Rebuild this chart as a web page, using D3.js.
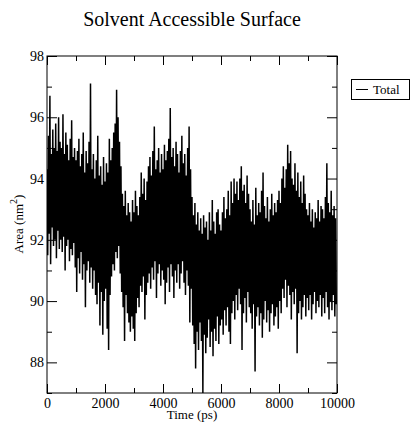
<!DOCTYPE html>
<html><head><meta charset="utf-8">
<script src="https://cdn.jsdelivr.net/npm/d3@7"></script>
<style>
body{margin:0;background:#fff;}
svg text{font-family:"Liberation Serif",serif !important;fill:#000;}
</style></head>
<body>
<svg id="chart" width="411" height="425"></svg>
<script>
// Sampling interval (ps) of the envelope readings
const stepPs = 50;
// Upper extremes of the trace, read every 50 ps (nm^2)
const highs = [
94.3,95.4,96.7,94.8,95.6,95.0,95.8,94.9,96.0,95.2,
95.0,96.1,94.8,95.5,95.1,94.6,95.3,95.9,94.7,95.0,
94.6,94.9,95.3,94.4,94.8,95.5,94.2,94.9,94.5,95.2,
97.1,94.3,94.8,94.0,94.6,95.4,94.1,94.4,93.8,94.7,
93.9,94.5,94.2,95.3,94.6,95.0,95.5,95.8,96.9,96.0,
95.2,94.4,93.5,93.1,93.6,92.8,93.2,92.9,92.6,93.3,
92.9,93.6,93.1,92.8,93.4,94.2,93.5,94.0,93.3,93.9,
94.4,94.7,94.1,94.9,95.7,94.3,94.6,95.0,94.2,94.8,
94.3,95.1,94.6,94.9,95.3,96.3,94.7,95.0,94.4,95.2,
94.8,94.2,94.9,95.4,94.5,94.8,94.1,95.0,95.7,94.3,
93.4,92.8,93.2,92.5,92.9,92.3,92.7,92.2,92.8,92.4,
92.6,92.0,92.9,92.3,93.3,92.6,92.2,92.9,93.0,92.5,
92.3,92.9,93.4,92.7,93.0,93.6,92.8,93.9,93.2,94.0,
93.5,93.9,93.3,94.0,94.4,93.6,93.8,93.2,94.1,93.5,
93.0,92.6,93.3,92.5,93.7,92.8,93.2,92.9,93.6,94.2,
93.1,92.7,93.4,92.6,93.0,93.5,92.8,93.2,92.9,93.3,
93.6,93.2,94.0,94.4,93.7,94.3,95.1,94.5,94.9,94.0,
93.8,94.5,93.6,94.2,93.4,93.9,93.2,94.1,93.5,93.0,
92.8,93.2,92.6,93.0,92.4,92.9,92.7,93.3,92.6,93.1,
93.0,92.7,93.4,94.5,93.2,92.9,93.6,92.8,93.1,92.7
];
// Lower extremes of the trace, read every 50 ps (nm^2)
const lows = [
91.5,92.2,91.2,92.4,91.8,92.0,91.4,92.3,91.7,92.0,
91.6,92.1,91.0,91.8,92.0,91.3,91.7,91.5,91.9,91.1,
90.3,91.4,90.9,91.6,90.7,91.2,89.8,91.0,91.3,90.6,
91.1,90.4,91.0,90.2,89.9,90.6,89.2,90.3,88.9,90.0,
90.4,89.1,88.4,90.2,90.8,91.2,91.0,91.6,91.4,91.8,
90.9,90.3,89.8,88.7,90.2,89.6,89.3,89.0,89.5,89.1,
88.7,89.6,90.1,89.8,90.5,90.3,90.8,89.4,90.2,90.6,
90.9,90.4,91.1,90.7,91.3,90.1,90.9,91.2,90.5,91.0,
90.7,89.9,90.6,91.1,90.3,91.2,90.8,90.1,91.0,90.6,
91.2,90.4,90.9,91.3,90.6,90.2,91.0,90.5,89.3,90.4,
89.2,88.6,87.8,89.0,88.4,89.3,88.7,87.0,88.9,88.3,
88.8,89.4,88.5,89.0,88.2,89.1,88.7,89.5,88.6,89.2,
89.4,88.9,89.7,89.2,89.8,89.0,88.6,89.6,90.0,89.4,
90.2,89.7,90.4,89.9,88.4,89.6,90.1,89.3,90.3,89.8,
89.6,89.1,89.9,87.7,89.5,89.8,89.2,89.6,88.8,89.4,
90.0,89.3,89.7,89.0,89.6,89.9,89.2,89.5,89.8,89.1,
90.0,89.6,90.4,90.1,90.7,89.8,90.5,90.2,89.4,90.3,
89.9,90.4,88.3,89.6,90.0,89.4,89.8,90.2,89.5,90.1,
89.7,90.2,89.4,89.9,90.3,89.6,90.0,89.8,90.2,89.5,
90.1,89.6,90.3,89.8,89.4,90.0,89.7,90.2,89.5,89.9
];
const xTicks = [0,2000,4000,6000,8000,10000];
const yTicks = [88,90,92,94,96,98];
const seriesName = "Total";
const titleText = "Solvent Accessible Surface";
const xLabel = "Time (ps)";

(function(){
const FONT = "Liberation Serif, serif";
const trace = [];
highs.forEach((h,i)=>{
  trace.push({t:i*stepPs, v:h});
  trace.push({t:i*stepPs+stepPs/2, v:lows[i]});
});

const svg = d3.select("#chart").attr("font-family",FONT);
const L=47, R=337, T=56, B=393;
const x = d3.scaleLinear().domain([0,10000]).range([L,R]);
const y = d3.scaleLinear().domain([87,98]).range([B,T]);

svg.append("clipPath").attr("id","clip").append("rect")
  .attr("x",L).attr("y",T).attr("width",R-L).attr("height",B-T);

const line = d3.line().x(d=>x(d.t)).y(d=>y(d.v));
svg.append("path").datum(trace).attr("d",line)
  .attr("clip-path","url(#clip)")
  .attr("fill","none").attr("stroke","#000").attr("stroke-width",1.5)
  .attr("stroke-linejoin","bevel");

svg.append("rect").attr("x",L).attr("y",T).attr("width",R-L).attr("height",B-T)
  .attr("fill","none").attr("stroke","#000").attr("stroke-width",1);

const xMinor = d3.range(1000,10000,2000);
const yMinor = d3.range(87,98,2);
const gs = [];
gs.push(svg.append("g").attr("transform",`translate(0,${B})`)
  .call(d3.axisBottom(x).tickValues(xTicks).tickSizeInner(-9).tickSizeOuter(0).tickPadding(5).tickFormat(d3.format("d"))));
gs.push(svg.append("g").attr("transform",`translate(0,${B})`)
  .call(d3.axisBottom(x).tickValues(xMinor).tickSizeInner(-5).tickSizeOuter(0).tickFormat("")));
gs.push(svg.append("g").attr("transform",`translate(0,${T})`)
  .call(d3.axisTop(x).tickValues(xTicks).tickSizeInner(-9).tickSizeOuter(0).tickFormat("")));
gs.push(svg.append("g").attr("transform",`translate(0,${T})`)
  .call(d3.axisTop(x).tickValues(xMinor).tickSizeInner(-5).tickSizeOuter(0).tickFormat("")));
gs.push(svg.append("g").attr("transform",`translate(${L},0)`)
  .call(d3.axisLeft(y).tickValues(yTicks).tickSizeInner(-10).tickSizeOuter(0).tickPadding(3).tickFormat(d3.format("d"))));
gs.push(svg.append("g").attr("transform",`translate(${L},0)`)
  .call(d3.axisLeft(y).tickValues(yMinor).tickSizeInner(-5).tickSizeOuter(0).tickFormat("")));
gs.push(svg.append("g").attr("transform",`translate(${R},0)`)
  .call(d3.axisRight(y).tickValues(yTicks).tickSizeInner(-10).tickSizeOuter(0).tickFormat("")));
gs.push(svg.append("g").attr("transform",`translate(${R},0)`)
  .call(d3.axisRight(y).tickValues(yMinor).tickSizeInner(-5).tickSizeOuter(0).tickFormat("")));
gs.forEach(g=>{
  g.attr("font-family",FONT).attr("font-size",14);
  g.select(".domain").remove();
  g.selectAll("line").attr("stroke","#000");
  g.selectAll("text").attr("font-family",FONT).attr("font-size",14).attr("fill","#000");
});

svg.append("text").attr("x",192).attr("y",26).attr("text-anchor","middle")
  .attr("font-family",FONT).attr("font-size",20).text(titleText);
svg.append("text").attr("x",192).attr("y",419).attr("text-anchor","middle")
  .attr("font-family",FONT).attr("font-size",13).text(xLabel);
const yl = svg.append("text").attr("transform","translate(23,224) rotate(-90)")
  .attr("text-anchor","middle").attr("font-family",FONT).attr("font-size",13);
yl.append("tspan").text("Area (nm");
yl.append("tspan").attr("dy",-6).attr("font-size",10).text("2");
yl.append("tspan").attr("dy",6).text(")");

svg.append("rect").attr("x",351.5).attr("y",79.5).attr("width",58).attr("height",20)
  .attr("fill","#fff").attr("stroke","#000").attr("stroke-width",1);
svg.append("line").attr("x1",356).attr("x2",368).attr("y1",89.5).attr("y2",89.5)
  .attr("stroke","#000").attr("stroke-width",1);
svg.append("text").attr("x",373).attr("y",94).attr("font-family",FONT).attr("font-size",13).text(seriesName);
})();
</script>
</body></html>
